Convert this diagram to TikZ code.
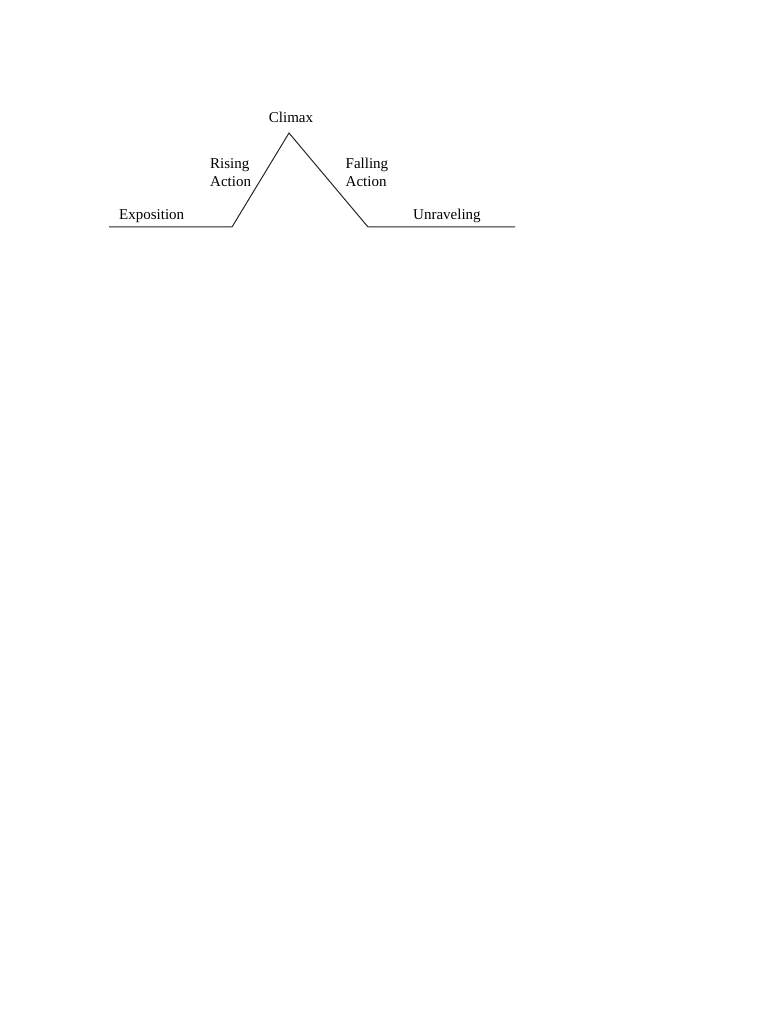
\documentclass[tikz,border=0pt]{standalone}
\usepackage{fontspec}
\setmainfont{Liberation Serif}
\begin{document}
\begin{tikzpicture}[x=1pt,y=-1pt,
  lbl/.style={inner sep=0pt,font=\fontsize{15}{18}\selectfont},
  plotline/.style={line width=1pt,black!85}]
\useasboundingbox (0,0) rectangle (768,1024);
\coordinate (start) at (109,227);
\coordinate (rise) at (232,227);
\coordinate (peak) at (289,133);
\coordinate (fall) at (368,227);
\coordinate (finish) at (515,227);
\draw[plotline,line join=miter] (start) -- (rise) -- (peak) -- (fall) -- (finish);
\node[lbl,anchor=base] (climax) at (291,123) {Climax};
\node[lbl,anchor=base west] (rising1) at (210,168.5) {Rising};
\node[lbl,anchor=base west] (rising2) at (210,187) {Action};
\node[lbl,anchor=base west] (falling1) at (345.5,168.5) {Falling};
\node[lbl,anchor=base west] (falling2) at (345.5,187) {Action};
\node[lbl,anchor=base west] (expo) at (119,219) {Exposition};
\node[lbl,anchor=base west] (unrav) at (413,219) {Unraveling};
\end{tikzpicture}
\end{document}
